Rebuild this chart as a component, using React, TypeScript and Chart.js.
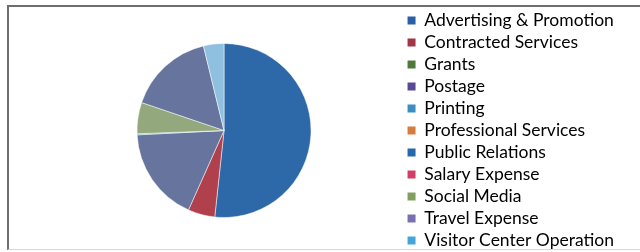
import React, { useEffect, useRef } from "react";
import { Chart, registerables } from "chart.js";

Chart.register(...registerables);

const categories = [
  "Advertising & Promotion",
  "Contracted Services",
  "Grants",
  "Postage",
  "Printing",
  "Professional Services",
  "Public Relations",
  "Salary Expense",
  "Social Media",
  "Travel Expense",
  "Visitor Center Operation",
];

// share of total, %
const values = [51.7, 5.0, 0, 17.5, 0.2, 0, 0, 0, 5.8, 16.0, 3.8];

const sliceColors = [
  "#2d68a8",
  "#b0404c",
  "#5a8a3a",
  "#66749e",
  "#3a8fc0",
  "#d97a3a",
  "#2a6ab0",
  "#d0406a",
  "#93a87c",
  "#66749e",
  "#8fc0e0",
];

const legendColors = [
  "#2a5ea6",
  "#a23645",
  "#4f7a3c",
  "#5a4a94",
  "#3a8fc0",
  "#d67c3e",
  "#2468ae",
  "#cf3f68",
  "#80a060",
  "#7870b0",
  "#44a6d8",
];

export default function App() {
  const ref = useRef<HTMLCanvasElement>(null);

  useEffect(() => {
    const canvas = ref.current;
    if (!canvas) return;
    const chart = new Chart(canvas, {
      type: "pie",
      data: {
        labels: categories,
        datasets: [
          {
            data: values,
            backgroundColor: sliceColors,
            borderColor: "#ffffff",
            borderWidth: 0.5,
            radius: 87,
          },
        ],
      },
      options: {
        responsive: false,
        maintainAspectRatio: false,
        animation: false,
        layout: { padding: { left: 45, right: 16, top: 0, bottom: 0 } },
        plugins: {
          tooltip: { enabled: false },
          legend: {
            position: "right",
            align: "center",
            labels: {
              boxWidth: 8,
              boxHeight: 8,
              padding: 4.5,
              color: "#1c1c1c",
              font: { family: "Lato", size: 17.5 },
              generateLabels: (c: any) =>
                categories.map((t, i) => ({
                  text: t,
                  fillStyle: legendColors[i],
                  strokeStyle: legendColors[i],
                  lineWidth: 0,
                  hidden: false,
                  index: i,
                })),
            },
          },
        },
      },
    });
    return () => chart.destroy();
  }, []);

  return (
    <div
      style={{
        position: "fixed",
        left: 0,
        top: 0,
        width: 640,
        height: 252,
        overflow: "hidden",
        background: "#ffffff",
      }}
    >
      <canvas
        ref={ref}
        width={640}
        height={261}
        style={{ position: "absolute", left: 0, top: 0, width: 640, height: 261 }}
      />
      <div
        style={{
          position: "absolute",
          left: 7,
          top: 5,
          width: 640,
          height: 245,
          borderTop: "2px solid #6e6e6e",
          borderLeft: "2px solid #6e6e6e",
          borderBottom: "1px solid #d8d8d8",
          boxSizing: "border-box",
          pointerEvents: "none",
        }}
      />
    </div>
  );
}
